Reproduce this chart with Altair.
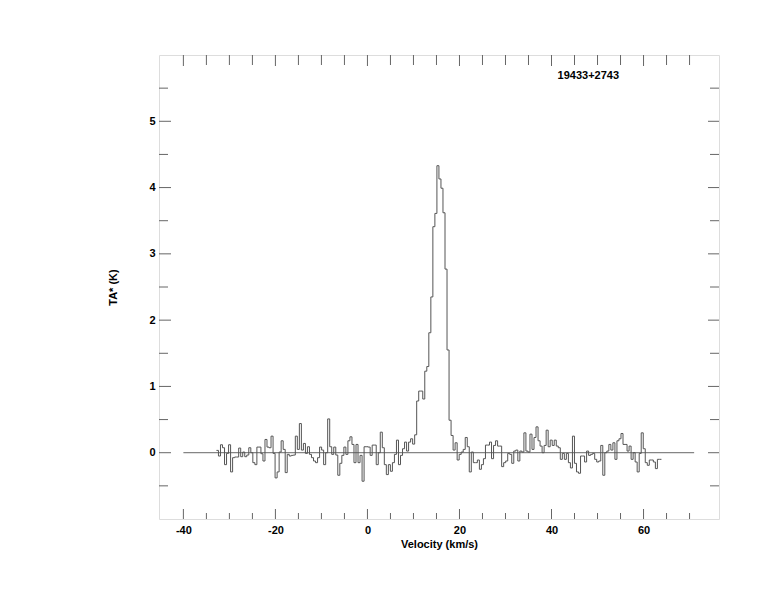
import altair as alt
import pandas as pd

TITLE_TEXT = "19433+2743"
X_TITLE = "Velocity (km/s)"
Y_TITLE = "TA* (K)"

V_START = -32.82
V_STEP = 0.4396

ta_part1 = [0.035, -0.05, 0.12, 0.075, -0.18, -0.01, 0.12, -0.29, -0.075, -0.065,
            -0.065, 0.07, -0.06, 0.01, -0.06, -0.035, 0.075, 0.0, -0.15, -0.18,
            0.085, 0.085, -0.015, -0.125, 0.2, 0.085, 0.075, 0.25, -0.01, -0.38,
            -0.29, 0.01, 0.18, 0.05, -0.3, -0.025, -0.05, -0.04, -0.035, 0.25,
            0.05, 0.44, 0.04, 0.14, -0.01, 0.09, -0.025, -0.075]
ta_part2 = [-0.125, -0.15, -0.075, 0.085, 0.04, -0.18, 0.0, 0.51, 0.09, -0.025,
            0.085, -0.035, -0.34, -0.16, -0.04, 0.085, -0.025, 0.18, 0.24, 0.125,
            -0.15, 0.125, -0.15, -0.04, -0.43, 0.09, 0.09, 0.085, -0.04, 0.115,
            0.115, -0.18, 0.0, 0.31, 0.075, -0.18, -0.33, -0.18, -0.28, -0.15,
            -0.025, 0.19, -0.18, -0.04, 0.06, 0.16, 0.025, 0.16, 0.21]
ta_peak = [0.13, 0.27, 0.78, 0.93, 0.93, 0.81, 1.23, 1.30, 1.81, 2.35,
           3.41, 3.61, 4.33, 4.13, 3.99, 3.62, 2.77, 1.55, 0.49, 0.26, 0.04]
ta_part3 = [0.15, -0.11, -0.025, 0.01, 0.05, 0.23, 0.09, -0.29, 0.01, -0.15,
            -0.15, -0.11, -0.25, -0.18, -0.09, 0.115, 0.115, 0.16, -0.09, 0.11,
            0.18, 0.1, 0.1, -0.21, -0.15, -0.125, -0.01, -0.025, -0.16, 0.025,
            0.04, -0.125, 0.025, 0.01, 0.3, 0.025, 0.01, 0.28, 0.05, 0.23,
            0.39, 0.18, 0.1, 0.0, 0.11, 0.34, 0.09, 0.19, 0.11, 0.19,
            0.1, 0.075]
ta_part4 = [-0.1, -0.01, -0.1, -0.01, -0.15, -0.23, 0.25, -0.16, -0.29, -0.31,
            -0.05, -0.05, -0.14, 0.025, -0.04, -0.025, -0.01, -0.1, -0.14, -0.125,
            0.11, -0.34, 0.0, 0.025, 0.125, 0.04, 0.15, -0.1, 0.18, 0.21,
            0.29, 0.125, 0.125, 0.025, 0.1, -0.1, 0.0, -0.14, -0.29, -0.01,
            0.3, 0.06, -0.15, -0.19, -0.11, -0.11, -0.14, -0.24, -0.1, -0.1]

ta = ta_part1 + ta_part2 + ta_peak + ta_part3 + ta_part4
vel = [V_START + i * V_STEP for i in range(len(ta) + 1)]
spec = pd.DataFrame({"v": vel, "t": ta + [ta[-1]]})

baseline_v = [-40, 71]
baseline_t = [0, 0]

x_major = [-40, -20, 0, 20, 40, 60]
x_minor = [-35, -30, -25, -15, -10, -5, 5, 10, 15, 25, 30, 35, 45, 50, 55, 65, 70]
y_major = [0, 1, 2, 3, 4, 5]
y_minor = [-0.5, 0.5, 1.5, 2.5, 3.5, 4.5, 5.5]

X_DOMAIN = [-45.3, 76.4]
Y_DOMAIN = [-1, 6]
W, H = 560, 464
FONT = "Liberation Sans"
GRAY = "#666666"

xs = alt.Scale(domain=X_DOMAIN, nice=False, zero=False)
ys = alt.Scale(domain=Y_DOMAIN, nice=False, zero=False)

line = alt.Chart(spec).mark_line(interpolate="step-after", color="#555555", strokeWidth=1).encode(
    x=alt.X("v:Q", scale=xs,
            axis=alt.Axis(values=x_major, title=X_TITLE, ticks=False, domain=False, grid=False,
                          labelPadding=5, titlePadding=3, labelFont=FONT, titleFont=FONT,
                          labelFontSize=11, titleFontSize=11, labelFontWeight="bold",
                          titleFontWeight="bold", labelColor="black", titleColor="black",
                          labelExpr="'' + datum.value")),
    y=alt.Y("t:Q", scale=ys,
            axis=alt.Axis(values=y_major, title=Y_TITLE, ticks=False, domain=False, grid=False,
                          labelPadding=4, titlePadding=30, labelFont=FONT, titleFont=FONT,
                          labelFontSize=11, titleFontSize=11, labelFontWeight="bold",
                          titleFontWeight="bold", labelColor="black", titleColor="black",
                          labelExpr="'' + datum.value")),
)

base_df = pd.DataFrame({"v": baseline_v, "t": baseline_t})
baseline = alt.Chart(base_df).mark_line(color=GRAY, strokeWidth=1).encode(
    x=alt.X("v:Q", scale=xs), y=alt.Y("t:Q", scale=ys))


def xticks(vals, y0, y1):
    df = pd.DataFrame({"v": vals})
    return alt.Chart(df).mark_rule(color=GRAY, strokeWidth=1).encode(
        x=alt.X("v:Q", scale=xs), y=alt.value(y0), y2=alt.value(y1))


def yticks(vals, x0, x1):
    df = pd.DataFrame({"t": vals})
    return alt.Chart(df).mark_rule(color=GRAY, strokeWidth=1).encode(
        y=alt.Y("t:Q", scale=ys), x=alt.value(x0), x2=alt.value(x1))


ticks = [
    xticks(x_major, H, H - 10), xticks(x_minor, H, H - 6),
    xticks(x_major, 0, 11), xticks(x_minor, 0, 10),
    yticks(y_major, 0, 12), yticks(y_minor, 0, 9),
    yticks(y_major, W, W - 11), yticks(y_minor, W, W - 9),
]

title_df = pd.DataFrame({"v": [48.0], "t": [5.68], "label": [TITLE_TEXT]})
title = alt.Chart(title_df).mark_text(font=FONT, fontSize=11, fontWeight="bold", color="black").encode(
    x=alt.X("v:Q", scale=xs), y=alt.Y("t:Q", scale=ys), text="label:N")

chart = alt.layer(baseline, line, *ticks, title).properties(
    width=W, height=H, autosize="none",
    padding={"left": 151, "top": 47, "right": 10, "bottom": 60},
).configure_view(stroke=GRAY, strokeWidth=1).configure(background="white")

chart.save("out.html", embed_options={"renderer": "svg", "actions": False})
